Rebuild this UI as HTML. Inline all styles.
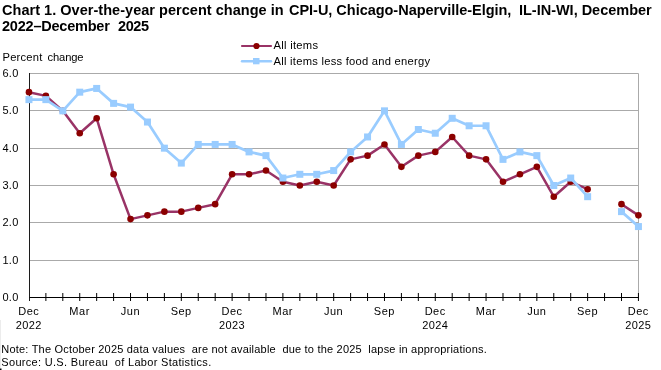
<!DOCTYPE html>
<html><head><meta charset="utf-8"><style>
html,body{margin:0;padding:0;background:#fff;width:661px;height:370px;overflow:hidden;position:relative}
svg text{font-family:"Liberation Sans",sans-serif;fill:#000}
svg{will-change:transform}
</style></head><body>
<svg width="661" height="370" style="position:absolute;left:0;top:0">
<line x1="29.5" x2="638.5" y1="260.5" y2="260.5" stroke="#aaaaaa" stroke-width="1"/>
<line x1="29.5" x2="638.5" y1="222.5" y2="222.5" stroke="#aaaaaa" stroke-width="1"/>
<line x1="29.5" x2="638.5" y1="185.5" y2="185.5" stroke="#aaaaaa" stroke-width="1"/>
<line x1="29.5" x2="638.5" y1="148.5" y2="148.5" stroke="#aaaaaa" stroke-width="1"/>
<line x1="29.5" x2="638.5" y1="110.5" y2="110.5" stroke="#aaaaaa" stroke-width="1"/>
<line x1="29.5" x2="638.5" y1="73.5" y2="73.5" stroke="#aaaaaa" stroke-width="1"/>
<line x1="638.5" x2="638.5" y1="73.5" y2="297.5" stroke="#aaaaaa" stroke-width="1"/>
<line x1="29.5" x2="29.5" y1="73.0" y2="301.0" stroke="#1c1c1c" stroke-width="1"/>
<line x1="29.5" x2="638.5" y1="297.5" y2="297.5" stroke="#000" stroke-width="1"/>
<line x1="45.88" x2="45.88" y1="293" y2="301" stroke="#000" stroke-width="1"/>
<line x1="62.81" x2="62.81" y1="293" y2="301" stroke="#000" stroke-width="1"/>
<line x1="79.74" x2="79.74" y1="293" y2="301" stroke="#000" stroke-width="1"/>
<line x1="96.67" x2="96.67" y1="293" y2="301" stroke="#000" stroke-width="1"/>
<line x1="113.60" x2="113.60" y1="293" y2="301" stroke="#000" stroke-width="1"/>
<line x1="130.53" x2="130.53" y1="293" y2="301" stroke="#000" stroke-width="1"/>
<line x1="147.46" x2="147.46" y1="293" y2="301" stroke="#000" stroke-width="1"/>
<line x1="164.39" x2="164.39" y1="293" y2="301" stroke="#000" stroke-width="1"/>
<line x1="181.32" x2="181.32" y1="293" y2="301" stroke="#000" stroke-width="1"/>
<line x1="198.25" x2="198.25" y1="293" y2="301" stroke="#000" stroke-width="1"/>
<line x1="215.18" x2="215.18" y1="293" y2="301" stroke="#000" stroke-width="1"/>
<line x1="232.11" x2="232.11" y1="293" y2="301" stroke="#000" stroke-width="1"/>
<line x1="249.04" x2="249.04" y1="293" y2="301" stroke="#000" stroke-width="1"/>
<line x1="265.97" x2="265.97" y1="293" y2="301" stroke="#000" stroke-width="1"/>
<line x1="282.90" x2="282.90" y1="293" y2="301" stroke="#000" stroke-width="1"/>
<line x1="299.83" x2="299.83" y1="293" y2="301" stroke="#000" stroke-width="1"/>
<line x1="316.76" x2="316.76" y1="293" y2="301" stroke="#000" stroke-width="1"/>
<line x1="333.69" x2="333.69" y1="293" y2="301" stroke="#000" stroke-width="1"/>
<line x1="350.62" x2="350.62" y1="293" y2="301" stroke="#000" stroke-width="1"/>
<line x1="367.55" x2="367.55" y1="293" y2="301" stroke="#000" stroke-width="1"/>
<line x1="384.48" x2="384.48" y1="293" y2="301" stroke="#000" stroke-width="1"/>
<line x1="401.41" x2="401.41" y1="293" y2="301" stroke="#000" stroke-width="1"/>
<line x1="418.34" x2="418.34" y1="293" y2="301" stroke="#000" stroke-width="1"/>
<line x1="435.27" x2="435.27" y1="293" y2="301" stroke="#000" stroke-width="1"/>
<line x1="452.20" x2="452.20" y1="293" y2="301" stroke="#000" stroke-width="1"/>
<line x1="469.13" x2="469.13" y1="293" y2="301" stroke="#000" stroke-width="1"/>
<line x1="486.06" x2="486.06" y1="293" y2="301" stroke="#000" stroke-width="1"/>
<line x1="502.99" x2="502.99" y1="293" y2="301" stroke="#000" stroke-width="1"/>
<line x1="519.92" x2="519.92" y1="293" y2="301" stroke="#000" stroke-width="1"/>
<line x1="536.85" x2="536.85" y1="293" y2="301" stroke="#000" stroke-width="1"/>
<line x1="553.78" x2="553.78" y1="293" y2="301" stroke="#000" stroke-width="1"/>
<line x1="570.71" x2="570.71" y1="293" y2="301" stroke="#000" stroke-width="1"/>
<line x1="587.64" x2="587.64" y1="293" y2="301" stroke="#000" stroke-width="1"/>
<line x1="604.57" x2="604.57" y1="293" y2="301" stroke="#000" stroke-width="1"/>
<line x1="621.50" x2="621.50" y1="293" y2="301" stroke="#000" stroke-width="1"/>
<line x1="638.43" x2="638.43" y1="293" y2="301" stroke="#000" stroke-width="1"/>
<g fill="none" stroke="#993366" stroke-width="2.5" stroke-linejoin="round"><polyline points="28.95,92.17 45.88,95.90 62.81,110.84 79.74,133.23 96.67,118.30 113.60,174.30 130.53,219.10 147.46,215.37 164.39,211.63 181.32,211.63 198.25,207.90 215.18,204.17 232.11,174.30 249.04,174.30 265.97,170.57 282.90,181.77 299.83,185.50 316.76,181.77 333.69,185.50 350.62,159.37 367.55,155.63 384.48,144.43 401.41,166.83 418.34,155.63 435.27,151.90 452.20,136.97 469.13,155.63 486.06,159.37 502.99,181.77 519.92,174.30 536.85,166.83 553.78,196.70 570.71,181.77 587.64,189.23"/><polyline points="621.50,204.17 638.43,215.37"/></g>
<circle cx="28.95" cy="92.17" r="3.3" fill="#8b0000"/>
<circle cx="45.88" cy="95.90" r="3.3" fill="#8b0000"/>
<circle cx="62.81" cy="110.84" r="3.3" fill="#8b0000"/>
<circle cx="79.74" cy="133.23" r="3.3" fill="#8b0000"/>
<circle cx="96.67" cy="118.30" r="3.3" fill="#8b0000"/>
<circle cx="113.60" cy="174.30" r="3.3" fill="#8b0000"/>
<circle cx="130.53" cy="219.10" r="3.3" fill="#8b0000"/>
<circle cx="147.46" cy="215.37" r="3.3" fill="#8b0000"/>
<circle cx="164.39" cy="211.63" r="3.3" fill="#8b0000"/>
<circle cx="181.32" cy="211.63" r="3.3" fill="#8b0000"/>
<circle cx="198.25" cy="207.90" r="3.3" fill="#8b0000"/>
<circle cx="215.18" cy="204.17" r="3.3" fill="#8b0000"/>
<circle cx="232.11" cy="174.30" r="3.3" fill="#8b0000"/>
<circle cx="249.04" cy="174.30" r="3.3" fill="#8b0000"/>
<circle cx="265.97" cy="170.57" r="3.3" fill="#8b0000"/>
<circle cx="282.90" cy="181.77" r="3.3" fill="#8b0000"/>
<circle cx="299.83" cy="185.50" r="3.3" fill="#8b0000"/>
<circle cx="316.76" cy="181.77" r="3.3" fill="#8b0000"/>
<circle cx="333.69" cy="185.50" r="3.3" fill="#8b0000"/>
<circle cx="350.62" cy="159.37" r="3.3" fill="#8b0000"/>
<circle cx="367.55" cy="155.63" r="3.3" fill="#8b0000"/>
<circle cx="384.48" cy="144.43" r="3.3" fill="#8b0000"/>
<circle cx="401.41" cy="166.83" r="3.3" fill="#8b0000"/>
<circle cx="418.34" cy="155.63" r="3.3" fill="#8b0000"/>
<circle cx="435.27" cy="151.90" r="3.3" fill="#8b0000"/>
<circle cx="452.20" cy="136.97" r="3.3" fill="#8b0000"/>
<circle cx="469.13" cy="155.63" r="3.3" fill="#8b0000"/>
<circle cx="486.06" cy="159.37" r="3.3" fill="#8b0000"/>
<circle cx="502.99" cy="181.77" r="3.3" fill="#8b0000"/>
<circle cx="519.92" cy="174.30" r="3.3" fill="#8b0000"/>
<circle cx="536.85" cy="166.83" r="3.3" fill="#8b0000"/>
<circle cx="553.78" cy="196.70" r="3.3" fill="#8b0000"/>
<circle cx="570.71" cy="181.77" r="3.3" fill="#8b0000"/>
<circle cx="587.64" cy="189.23" r="3.3" fill="#8b0000"/>
<circle cx="621.50" cy="204.17" r="3.3" fill="#8b0000"/>
<circle cx="638.43" cy="215.37" r="3.3" fill="#8b0000"/>
<g fill="none" stroke="#99ccff" stroke-width="2.7" stroke-linejoin="round"><polyline points="28.95,99.64 45.88,99.64 62.81,110.84 79.74,92.17 96.67,88.44 113.60,103.37 130.53,107.10 147.46,122.03 164.39,148.17 181.32,163.10 198.25,144.43 215.18,144.43 232.11,144.43 249.04,151.90 265.97,155.63 282.90,178.03 299.83,174.30 316.76,174.30 333.69,170.57 350.62,151.90 367.55,136.97 384.48,110.84 401.41,144.43 418.34,129.50 435.27,133.23 452.20,118.30 469.13,125.77 486.06,125.77 502.99,159.37 519.92,151.90 536.85,155.63 553.78,185.50 570.71,178.03 587.64,196.70"/><polyline points="621.50,211.63 638.43,226.57"/></g>
<rect x="25.45" y="96.14" width="7" height="7" fill="#99ccff"/>
<rect x="42.38" y="96.14" width="7" height="7" fill="#99ccff"/>
<rect x="59.31" y="107.34" width="7" height="7" fill="#99ccff"/>
<rect x="76.24" y="88.67" width="7" height="7" fill="#99ccff"/>
<rect x="93.17" y="84.94" width="7" height="7" fill="#99ccff"/>
<rect x="110.10" y="99.87" width="7" height="7" fill="#99ccff"/>
<rect x="127.03" y="103.60" width="7" height="7" fill="#99ccff"/>
<rect x="143.96" y="118.53" width="7" height="7" fill="#99ccff"/>
<rect x="160.89" y="144.67" width="7" height="7" fill="#99ccff"/>
<rect x="177.82" y="159.60" width="7" height="7" fill="#99ccff"/>
<rect x="194.75" y="140.93" width="7" height="7" fill="#99ccff"/>
<rect x="211.68" y="140.93" width="7" height="7" fill="#99ccff"/>
<rect x="228.61" y="140.93" width="7" height="7" fill="#99ccff"/>
<rect x="245.54" y="148.40" width="7" height="7" fill="#99ccff"/>
<rect x="262.47" y="152.13" width="7" height="7" fill="#99ccff"/>
<rect x="279.40" y="174.53" width="7" height="7" fill="#99ccff"/>
<rect x="296.33" y="170.80" width="7" height="7" fill="#99ccff"/>
<rect x="313.26" y="170.80" width="7" height="7" fill="#99ccff"/>
<rect x="330.19" y="167.07" width="7" height="7" fill="#99ccff"/>
<rect x="347.12" y="148.40" width="7" height="7" fill="#99ccff"/>
<rect x="364.05" y="133.47" width="7" height="7" fill="#99ccff"/>
<rect x="380.98" y="107.34" width="7" height="7" fill="#99ccff"/>
<rect x="397.91" y="140.93" width="7" height="7" fill="#99ccff"/>
<rect x="414.84" y="126.00" width="7" height="7" fill="#99ccff"/>
<rect x="431.77" y="129.73" width="7" height="7" fill="#99ccff"/>
<rect x="448.70" y="114.80" width="7" height="7" fill="#99ccff"/>
<rect x="465.63" y="122.27" width="7" height="7" fill="#99ccff"/>
<rect x="482.56" y="122.27" width="7" height="7" fill="#99ccff"/>
<rect x="499.49" y="155.87" width="7" height="7" fill="#99ccff"/>
<rect x="516.42" y="148.40" width="7" height="7" fill="#99ccff"/>
<rect x="533.35" y="152.13" width="7" height="7" fill="#99ccff"/>
<rect x="550.28" y="182.00" width="7" height="7" fill="#99ccff"/>
<rect x="567.21" y="174.53" width="7" height="7" fill="#99ccff"/>
<rect x="584.14" y="193.20" width="7" height="7" fill="#99ccff"/>
<rect x="618.00" y="208.13" width="7" height="7" fill="#99ccff"/>
<rect x="634.93" y="223.07" width="7" height="7" fill="#99ccff"/>
<line x1="242" x2="271" y1="46" y2="46" stroke="#993366" stroke-width="2.2" stroke-linecap="round"/>
<circle cx="256.5" cy="46" r="3.1" fill="#8b0000"/>
<line x1="242" x2="271" y1="61.3" y2="61.3" stroke="#99ccff" stroke-width="2.4" stroke-linecap="round"/>
<rect x="253" y="58" width="6.5" height="6.3" fill="#99ccff"/>
<rect x="0" y="368.5" width="1.5" height="1.5" fill="#000"/><line x1="0.5" x2="0.5" y1="320" y2="368" stroke="#ececec" stroke-width="1"/>
<text x="2.0" y="14.6" text-anchor="start" font-size="14.5" font-weight="bold" textLength="281.6" lengthAdjust="spacing">Chart 1. Over-the-year percent change in</text>
<text x="289.0" y="14.6" text-anchor="start" font-size="14.5" font-weight="bold" textLength="222.4" lengthAdjust="spacing">CPI-U, Chicago-Naperville-Elgin,</text>
<text x="519.0" y="14.6" text-anchor="start" font-size="14.5" font-weight="bold" textLength="132.7" lengthAdjust="spacing">IL-IN-WI, December</text>
<text x="2.0" y="30.9" text-anchor="start" font-size="14.5" font-weight="bold" textLength="107.8" lengthAdjust="spacing">2022–December</text>
<text x="118.0" y="30.9" text-anchor="start" font-size="14.5" font-weight="bold" textLength="31.1" lengthAdjust="spacing">2025</text>
<text x="2.5" y="61.2" text-anchor="start" font-size="11.2" font-weight="normal" textLength="39.8" lengthAdjust="spacing">Percent</text>
<text x="47.5" y="61.2" text-anchor="start" font-size="11.2" font-weight="normal" textLength="36.1" lengthAdjust="spacing">change</text>
<text x="18.6" y="301.4" text-anchor="end" font-size="11" font-weight="normal" letter-spacing="0.3">0.0</text>
<text x="18.6" y="264.4" text-anchor="end" font-size="11" font-weight="normal" letter-spacing="0.3">1.0</text>
<text x="18.6" y="226.4" text-anchor="end" font-size="11" font-weight="normal" letter-spacing="0.3">2.0</text>
<text x="18.6" y="189.4" text-anchor="end" font-size="11" font-weight="normal" letter-spacing="0.3">3.0</text>
<text x="18.6" y="152.4" text-anchor="end" font-size="11" font-weight="normal" letter-spacing="0.3">4.0</text>
<text x="18.6" y="114.4" text-anchor="end" font-size="11" font-weight="normal" letter-spacing="0.3">5.0</text>
<text x="18.6" y="77.4" text-anchor="end" font-size="11" font-weight="normal" letter-spacing="0.3">6.0</text>
<text x="28.8" y="315.1" text-anchor="middle" font-size="11" font-weight="normal" letter-spacing="0.5">Dec</text>
<text x="28.8" y="328.5" text-anchor="middle" font-size="11" font-weight="normal" letter-spacing="0.4">2022</text>
<text x="79.6" y="315.1" text-anchor="middle" font-size="11" font-weight="normal" letter-spacing="0.5">Mar</text>
<text x="130.4" y="315.1" text-anchor="middle" font-size="11" font-weight="normal" letter-spacing="0.5">Jun</text>
<text x="181.2" y="315.1" text-anchor="middle" font-size="11" font-weight="normal" letter-spacing="0.5">Sep</text>
<text x="232.0" y="315.1" text-anchor="middle" font-size="11" font-weight="normal" letter-spacing="0.5">Dec</text>
<text x="232.0" y="328.5" text-anchor="middle" font-size="11" font-weight="normal" letter-spacing="0.4">2023</text>
<text x="282.8" y="315.1" text-anchor="middle" font-size="11" font-weight="normal" letter-spacing="0.5">Mar</text>
<text x="333.6" y="315.1" text-anchor="middle" font-size="11" font-weight="normal" letter-spacing="0.5">Jun</text>
<text x="384.4" y="315.1" text-anchor="middle" font-size="11" font-weight="normal" letter-spacing="0.5">Sep</text>
<text x="435.2" y="315.1" text-anchor="middle" font-size="11" font-weight="normal" letter-spacing="0.5">Dec</text>
<text x="435.2" y="328.5" text-anchor="middle" font-size="11" font-weight="normal" letter-spacing="0.4">2024</text>
<text x="486.0" y="315.1" text-anchor="middle" font-size="11" font-weight="normal" letter-spacing="0.5">Mar</text>
<text x="536.8" y="315.1" text-anchor="middle" font-size="11" font-weight="normal" letter-spacing="0.5">Jun</text>
<text x="587.5" y="315.1" text-anchor="middle" font-size="11" font-weight="normal" letter-spacing="0.5">Sep</text>
<text x="638.3" y="315.1" text-anchor="middle" font-size="11" font-weight="normal" letter-spacing="0.5">Dec</text>
<text x="638.3" y="328.5" text-anchor="middle" font-size="11" font-weight="normal" letter-spacing="0.4">2025</text>
<text x="273.5" y="48.9" text-anchor="start" font-size="11.2" font-weight="normal" textLength="44.5" lengthAdjust="spacing">All items</text>
<text x="273.5" y="64.5" text-anchor="start" font-size="11.2" font-weight="normal" textLength="156.6" lengthAdjust="spacing">All items less food and energy</text>
<text x="1.3" y="352.8" text-anchor="start" font-size="11" font-weight="normal" textLength="485.4" lengthAdjust="spacing">Note: The October 2025 data values&#160; are not available&#160; due to the 2025&#160; lapse in appropriations.</text>
<text x="1.3" y="365.5" text-anchor="start" font-size="11" font-weight="normal" textLength="209.9" lengthAdjust="spacing">Source: U.S. Bureau&#160; of Labor Statistics.</text>
</svg>
</body></html>
